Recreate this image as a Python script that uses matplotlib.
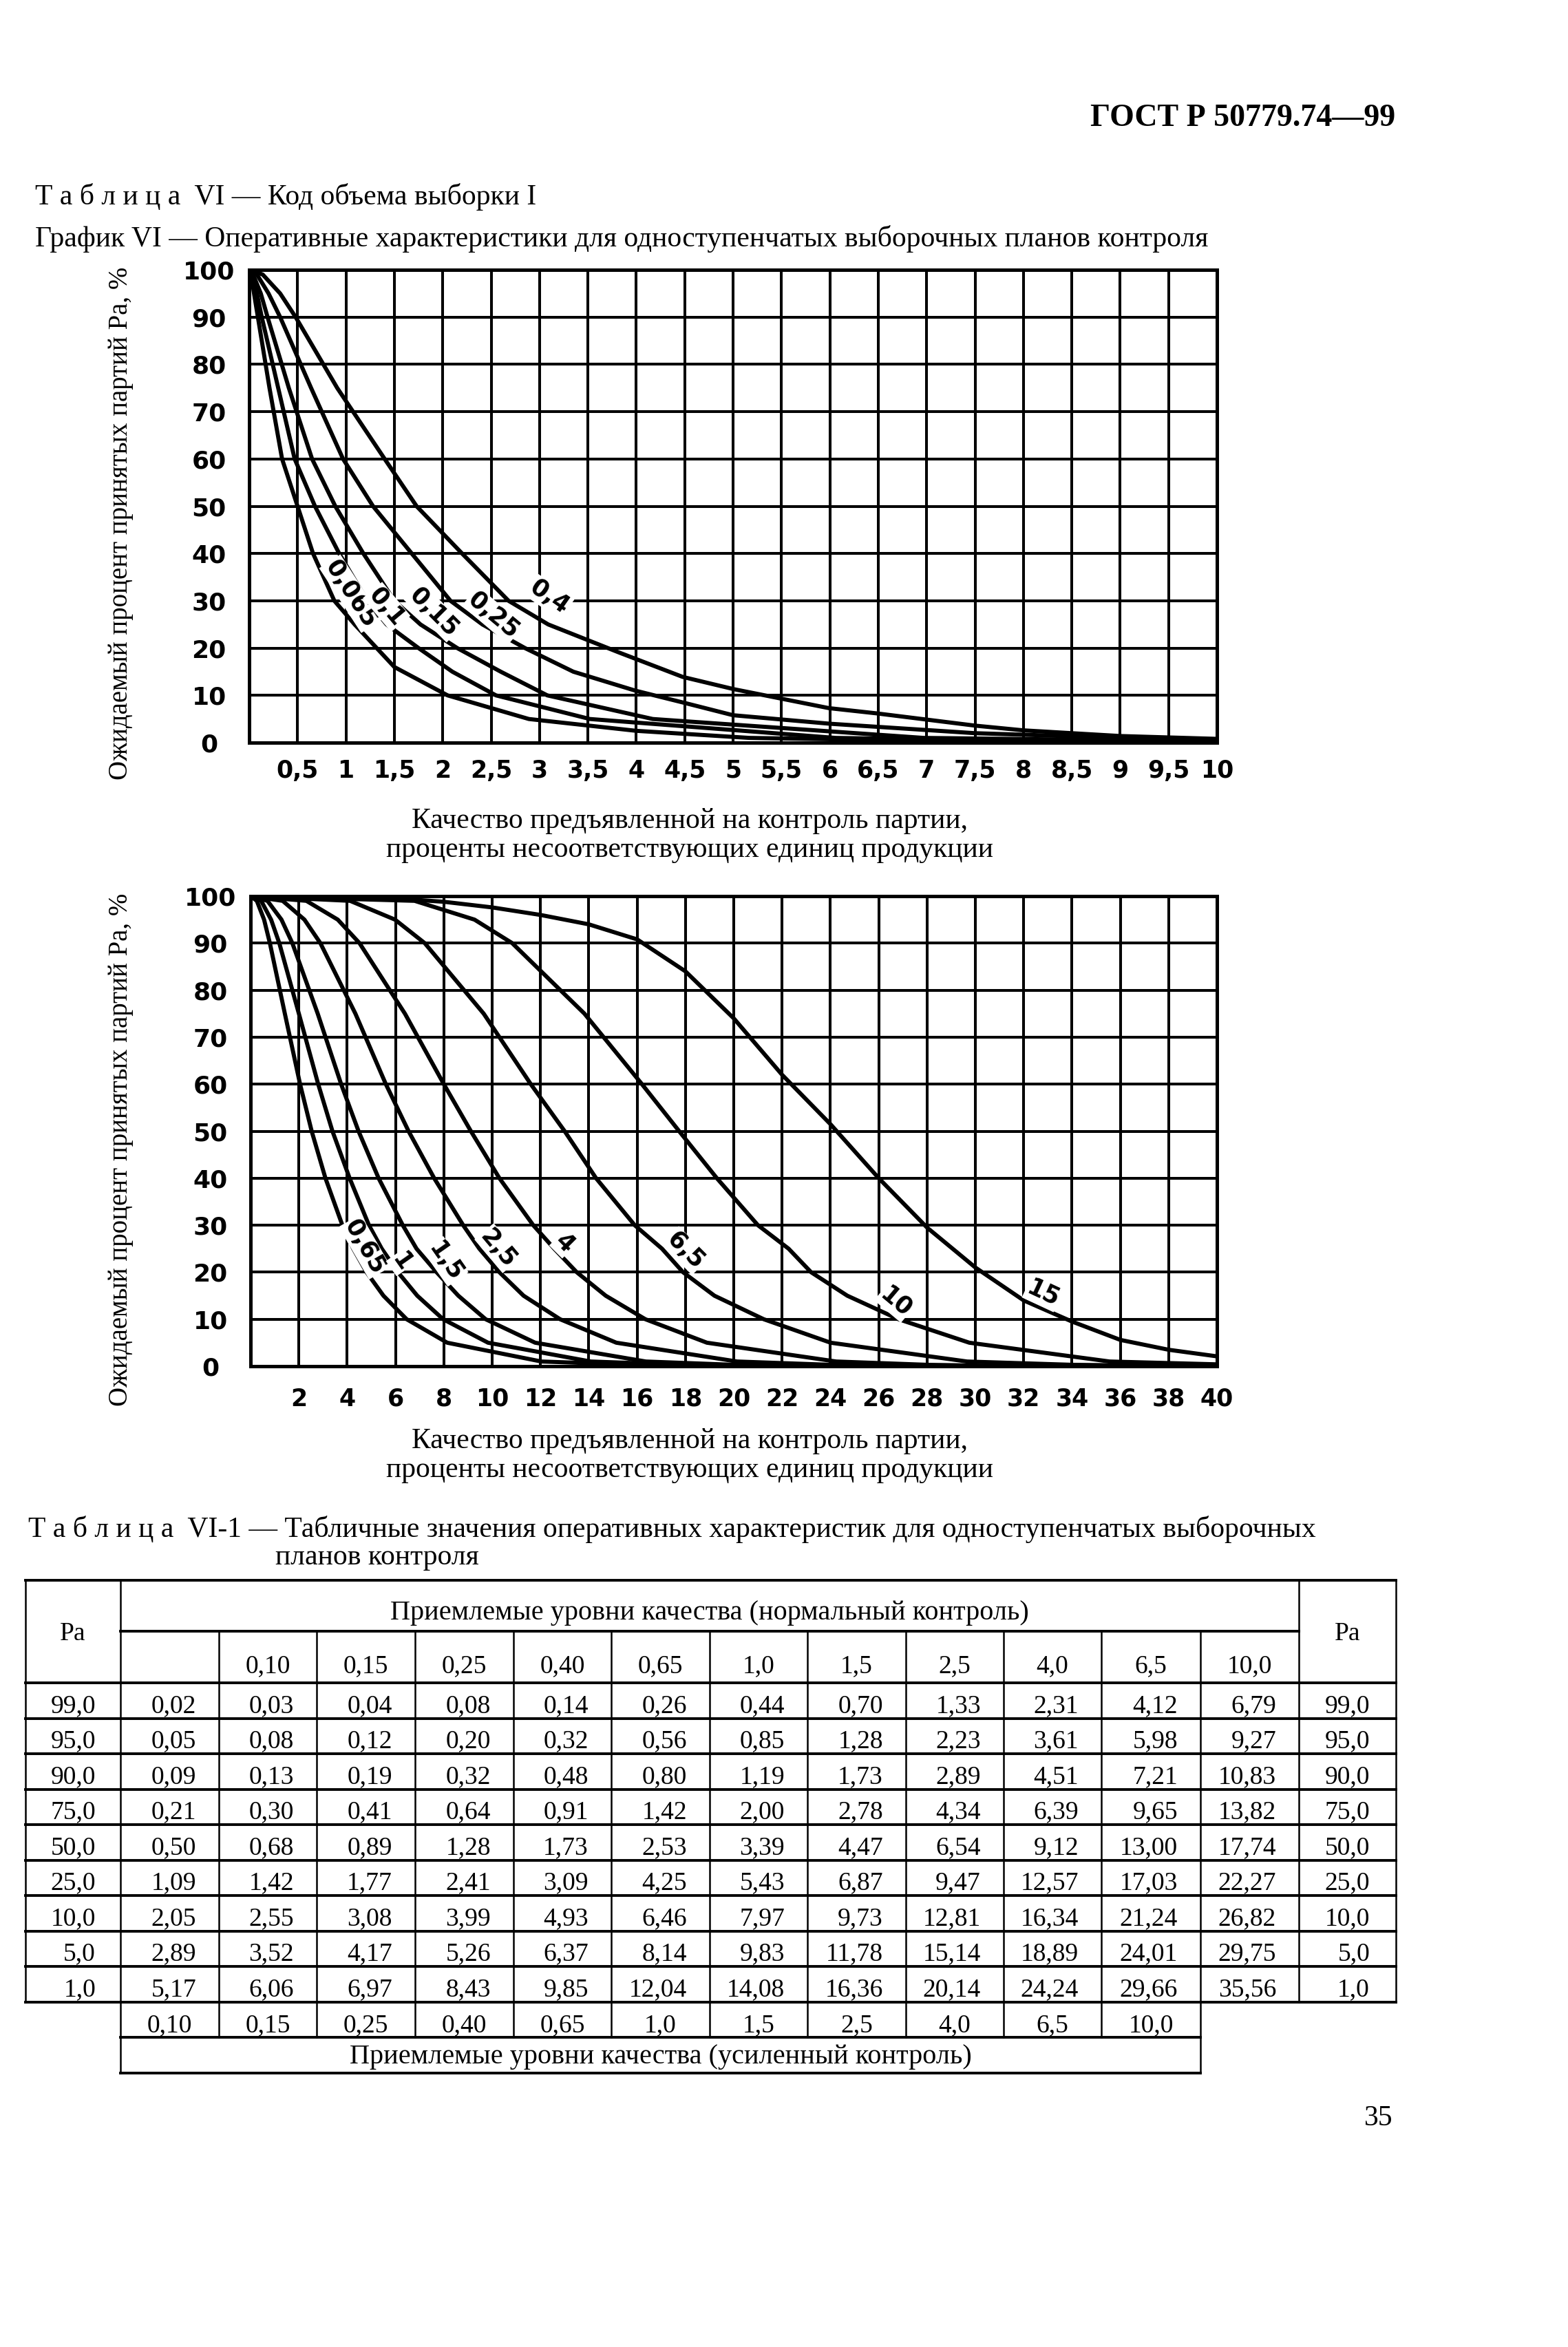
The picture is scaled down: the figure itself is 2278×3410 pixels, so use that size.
import numpy as np
import matplotlib
matplotlib.use("Agg")
import matplotlib.pyplot as plt
from matplotlib import font_manager

W, H = 2278, 3410

installed = {f.name for f in font_manager.fontManager.ttflist}
SERIF = "Liberation Serif"
TECH = "Liberation Sans Narrow" if "Liberation Sans Narrow" in installed else "DejaVu Sans"
plt.rcParams["font.family"] = [SERIF, "DejaVu Serif"]

# ---------------------------------------------------------
# Upper chart: x 0..10 %, curves for AQL 0,065 ... 0,4
# ---------------------------------------------------------
top_x_0065 = [0, 0.02, 0.05, 0.09, 0.21, 0.34, 0.50, 0.66, 0.88, 1.09, 1.50, 2.05, 2.89, 4.0, 5.17, 7.0, 10.0]
top_y_0065 = [100, 99, 95, 90, 75, 60, 50, 40, 30, 25, 16, 10, 5, 2.5, 1, 0.4, 0.2]
top_x_01 = [0, 0.03, 0.08, 0.13, 0.30, 0.47, 0.68, 0.93, 1.22, 1.42, 1.75, 2.10, 2.55, 3.52, 6.06, 8.0, 10.0]
top_y_01 = [100, 99, 95, 90, 75, 60, 50, 40, 30, 25, 20, 15, 10, 5, 1, 0.4, 0.2]
top_x_015 = [0, 0.04, 0.12, 0.19, 0.41, 0.65, 0.89, 1.18, 1.50, 1.77, 2.15, 2.60, 3.08, 4.17, 6.97, 10.0]
top_y_015 = [100, 99, 95, 90, 75, 60, 50, 40, 30, 25, 20, 15, 10, 5, 1, 0.3]
top_x_025 = [0, 0.08, 0.20, 0.32, 0.64, 0.97, 1.28, 1.68, 2.08, 2.41, 2.85, 3.35, 3.99, 4.5, 5.0, 6.0, 7.5, 8.43, 10.0]
top_y_025 = [100, 99, 95, 90, 75, 60, 50, 40, 30, 25, 20, 15, 11, 8.4, 5.8, 4.0, 2.0, 1.4, 0.6]
top_x_04 = [0, 0.14, 0.32, 0.48, 0.91, 1.40, 1.73, 2.20, 2.68, 3.09, 3.83, 4.48, 5.01, 5.99, 6.48, 7.5, 8.0, 9.0, 10.0]
top_y_04 = [100, 99, 95, 90, 75, 60, 50, 40, 30, 25, 19, 13.9, 11.3, 7.3, 6.2, 3.6, 2.6, 1.4, 0.8]

top_labels = ["0,065", "0,1", "0,15", "0,25", "0,4"]
top_label_x = [1.05, 1.42, 1.91, 2.52, 3.10]
top_label_y = [31.5, 28.7, 27.6, 26.9, 30.8]
top_label_rot = [-57, -50, -45, -40, -35]

# ---------------------------------------------------------
# Lower chart: x 0..40 %, curves for AQL 0,65 ... 15
# ---------------------------------------------------------
bot_x_065 = [0, 0.26, 0.56, 0.80, 1.42, 2.05, 2.53, 3.10, 3.80, 4.25, 4.80, 5.50, 6.46, 8.14, 12.04, 16.0, 20.0]
bot_y_065 = [100, 99, 95, 90, 75, 60, 50, 40, 30, 25, 20, 15, 10, 5, 1, 0.3, 0]
bot_x_1 = [0, 0.44, 0.85, 1.19, 2.00, 2.80, 3.39, 4.10, 4.90, 5.43, 6.10, 6.90, 7.97, 9.83, 14.08, 18.0, 22.0]
bot_y_1 = [100, 99, 95, 90, 75, 60, 50, 40, 30, 25, 20, 15, 10, 5, 1, 0.3, 0]
bot_x_15 = [0, 0.70, 1.28, 1.73, 2.78, 3.75, 4.47, 5.30, 6.30, 6.87, 7.70, 8.60, 9.73, 11.78, 16.36, 20.0, 24.0]
bot_y_15 = [100, 99, 95, 90, 75, 60, 50, 40, 30, 25, 20, 15, 10, 5, 1, 0.3, 0]
bot_x_25 = [0, 1.33, 2.23, 2.89, 4.34, 5.60, 6.54, 7.60, 8.80, 9.47, 10.3, 11.3, 12.81, 15.14, 20.14, 24.0, 28.0]
bot_y_25 = [100, 99, 95, 90, 75, 60, 50, 40, 30, 25, 20, 15, 10, 5, 1, 0.3, 0]
bot_x_4 = [0, 2.31, 3.61, 4.51, 6.39, 8.00, 9.12, 10.3, 11.7, 12.57, 13.5, 14.7, 16.34, 18.89, 24.24, 28.0, 32.0]
bot_y_4 = [100, 99, 95, 90, 75, 60, 50, 40, 30, 25, 20, 15, 10, 5, 1, 0.3, 0]
bot_x_65 = [0, 4.12, 5.98, 7.21, 9.65, 11.6, 13.00, 14.3, 15.9, 17.03, 17.9, 19.2, 21.24, 24.01, 29.66, 34.0, 40.0]
bot_y_65 = [100, 99, 95, 90, 75, 60, 50, 40, 30, 25, 20, 15, 10, 5, 1, 0.3, 0]
bot_x_10 = [0, 6.79, 9.27, 10.83, 13.82, 16.2, 17.74, 19.3, 21.0, 22.27, 23.2, 24.7, 26.82, 29.75, 35.56, 40.0]
bot_y_10 = [100, 99, 95, 90, 75, 60, 50, 40, 30, 25, 20, 15, 10, 5, 1, 0.4]
bot_x_15p = [0, 4, 6, 8, 10, 12, 14, 16, 18, 20, 22, 24, 26, 28, 30, 32, 34, 36, 38, 40]
bot_y_15p = [100, 99.8, 99.5, 98.8, 97.6, 96.0, 94.0, 90.8, 84, 74, 62, 51.5, 40, 29.5, 21, 14, 9.5, 5.6, 3.5, 2.1]

bot_labels = ["0,65", "1", "1,5", "2,5", "4", "6,5", "10", "15"]
bot_label_x = [4.73, 6.25, 8.07, 10.25, 13.0, 18.0, 26.7, 32.8]
bot_label_y = [25.4, 22.3, 22.3, 25.1, 26.2, 24.6, 13.7, 15.5]
bot_label_rot = [-60, -55, -55, -50, -45, -45, -40, -25]

# ---------------------------------------------------------
# Table VI-1
# ---------------------------------------------------------
tbl_pa = [99.0, 95.0, 90.0, 75.0, 50.0, 25.0, 10.0, 5.0, 1.0]
aql_normal = ["", "0,10", "0,15", "0,25", "0,40", "0,65", "1,0", "1,5", "2,5", "4,0", "6,5", "10,0"]
aql_tight = ["0,10", "0,15", "0,25", "0,40", "0,65", "1,0", "1,5", "2,5", "4,0", "6,5", "10,0"]
row_99 = [0.02, 0.03, 0.04, 0.08, 0.14, 0.26, 0.44, 0.70, 1.33, 2.31, 4.12, 6.79]
row_95 = [0.05, 0.08, 0.12, 0.20, 0.32, 0.56, 0.85, 1.28, 2.23, 3.61, 5.98, 9.27]
row_90 = [0.09, 0.13, 0.19, 0.32, 0.48, 0.80, 1.19, 1.73, 2.89, 4.51, 7.21, 10.83]
row_75 = [0.21, 0.30, 0.41, 0.64, 0.91, 1.42, 2.00, 2.78, 4.34, 6.39, 9.65, 13.82]
row_50 = [0.50, 0.68, 0.89, 1.28, 1.73, 2.53, 3.39, 4.47, 6.54, 9.12, 13.00, 17.74]
row_25 = [1.09, 1.42, 1.77, 2.41, 3.09, 4.25, 5.43, 6.87, 9.47, 12.57, 17.03, 22.27]
row_10 = [2.05, 2.55, 3.08, 3.99, 4.93, 6.46, 7.97, 9.73, 12.81, 16.34, 21.24, 26.82]
row_5 = [2.89, 3.52, 4.17, 5.26, 6.37, 8.14, 9.83, 11.78, 15.14, 18.89, 24.01, 29.75]
row_1 = [5.17, 6.06, 6.97, 8.43, 9.85, 12.04, 14.08, 16.36, 20.14, 24.24, 29.66, 35.56]
tbl_rows = [row_99, row_95, row_90, row_75, row_50, row_25, row_10, row_5, row_1]


def comma(v, nd):
    return f"{v:.{nd}f}".replace(".", ",")


fig = plt.figure(figsize=(W / 100, H / 100), dpi=100)

# page layer in pixel coordinates (y downwards)
page = fig.add_axes([0, 0, 1, 1])
page.set_xlim(0, W)
page.set_ylim(H, 0)
page.axis("off")

SZ = 30  # main serif text size

page.text(2027, 183, "ГОСТ Р 50779.74—99", ha="right", va="baseline",
          fontsize=33, fontweight="bold")
page.text(51, 297, "Т а б л и ц а  VI — Код объема выборки I", ha="left", va="baseline", fontsize=SZ)
page.text(51, 358, "График VI — Оперативные характеристики для одноступенчатых выборочных планов контроля",
          ha="left", va="baseline", fontsize=SZ)


def chart_axes(left, top, right, bottom):
    return fig.add_axes([left / W, 1 - bottom / H, (right - left) / W, (bottom - top) / H])


def style_chart(ax, xmax, xstep, xlabels, xpad):
    ax.set_xlim(0, xmax)
    ax.set_ylim(0, 100)
    ax.set_xticks(np.arange(xstep, xmax + xstep / 2, xstep))
    ax.set_xticklabels(xlabels, family=[TECH, "DejaVu Sans"], fontsize=25, fontweight="bold")
    ax.set_yticks(np.arange(0, 101, 10))
    ax.set_yticklabels([str(v) for v in range(0, 101, 10)], family=[TECH, "DejaVu Sans"],
                       fontsize=26, fontweight="bold", ha="center")
    ax.tick_params(axis="x", length=0, pad=xpad)
    ax.tick_params(axis="y", length=0, pad=42)
    ax.grid(True, color="black", lw=2.9)
    ax.set_axisbelow(True)
    for sp in ax.spines.values():
        sp.set_linewidth(3.6)


ax1 = chart_axes(362, 392, 1768, 1079)
xl1 = [comma(v, 1).replace(",0", "") for v in np.arange(0.5, 10.01, 0.5)]
style_chart(ax1, 10, 0.5, xl1, 17)
for xs, ys in [(top_x_0065, top_y_0065), (top_x_01, top_y_01), (top_x_015, top_y_015),
               (top_x_025, top_y_025), (top_x_04, top_y_04)]:
    ax1.plot(xs, ys, color="black", lw=4.3, solid_joinstyle="round", zorder=3)
for s, x, y, r in zip(top_labels, top_label_x, top_label_y, top_label_rot):
    ax1.text(x, y, s, rotation=r, ha="center", va="center", rotation_mode="anchor",
             family="DejaVu Sans", fontsize=25, fontweight="bold", zorder=6,
             bbox=dict(fc="white", ec="none", pad=1))

ax2 = chart_axes(364, 1302, 1768, 1985)
xl2 = [str(v) for v in range(2, 41, 2)]
style_chart(ax2, 40, 2, xl2, 22)
for xs, ys in [(bot_x_065, bot_y_065), (bot_x_1, bot_y_1), (bot_x_15, bot_y_15), (bot_x_25, bot_y_25),
               (bot_x_4, bot_y_4), (bot_x_65, bot_y_65), (bot_x_10, bot_y_10), (bot_x_15p, bot_y_15p)]:
    ax2.plot(xs, ys, color="black", lw=4.3, solid_joinstyle="round", zorder=3)
for s, x, y, r in zip(bot_labels, bot_label_x, bot_label_y, bot_label_rot):
    ax2.text(x, y, s, rotation=r, ha="center", va="center", rotation_mode="anchor",
             family="DejaVu Sans", fontsize=25, fontweight="bold", zorder=6,
             bbox=dict(fc="white", ec="none", pad=1))

ylab = "Ожидаемый процент принятых партий Pa, %"
page.text(176, 760, ylab, rotation=90, ha="center", va="center", fontsize=28)
page.text(176, 1670, ylab, rotation=90, ha="center", va="center", fontsize=28)

xlab1 = "Качество предъявленной на контроль партии,"
xlab2 = "проценты несоответствующих единиц продукции"
page.text(1002, 1203, xlab1, ha="center", va="baseline", fontsize=SZ)
page.text(1002, 1245, xlab2, ha="center", va="baseline", fontsize=SZ)
page.text(1002, 2104, xlab1, ha="center", va="baseline", fontsize=SZ)
page.text(1002, 2146, xlab2, ha="center", va="baseline", fontsize=SZ)

# ---- table
page.text(41, 2233, "Т а б л и ц а  VI-1 — Табличные значения оперативных характеристик для одноступенчатых выборочных",
          ha="left", va="baseline", fontsize=SZ)
page.text(400, 2273, "планов контроля", ha="left", va="baseline", fontsize=SZ)

col_edges = [37, 175, 318, 460, 603, 746, 888, 1031, 1173, 1316, 1458, 1600, 1744, 1887, 2028]
head_top, head_mid, head_bot = 2296, 2370, 2445
row_h = (2909 - head_bot) / len(tbl_pa)
data_edges = [head_bot + i * row_h for i in range(len(tbl_pa) + 1)]
tight_bot, last_bot = 2960, 3012

hl = dict(color="black", lw=2.8, solid_capstyle="projecting")
vl = dict(color="black", lw=1.8, solid_capstyle="projecting")
page.plot([col_edges[0], col_edges[-1]], [head_top, head_top], **hl)
page.plot([col_edges[1], col_edges[-2]], [head_mid, head_mid], **hl)
for y in data_edges:
    page.plot([col_edges[0], col_edges[-1]], [y, y], **hl)
page.plot([col_edges[1], col_edges[12]], [tight_bot, tight_bot], **hl)
page.plot([col_edges[1], col_edges[12]], [last_bot, last_bot], **hl)

for x in [col_edges[0], col_edges[-2], col_edges[-1]]:
    page.plot([x, x], [head_top, data_edges[-1]], **vl)
page.plot([col_edges[1], col_edges[1]], [head_top, last_bot], **vl)
page.plot([col_edges[12], col_edges[12]], [head_mid, last_bot], **vl)
for x in col_edges[2:12]:
    page.plot([x, x], [head_mid, tight_bot], **vl)

TS = 27
page.text(1031, 2353, "Приемлемые уровни качества (нормальный контроль)", ha="center", va="baseline", fontsize=29)
page.text((col_edges[0] + col_edges[1]) / 2, 2383, "Pa", ha="center", va="baseline", fontsize=TS)
page.text((col_edges[-2] + col_edges[-1]) / 2, 2383, "Pa", ha="center", va="baseline", fontsize=TS)
for i, s in enumerate(aql_normal):
    cx = (col_edges[i + 1] + col_edges[i + 2]) / 2
    page.text(cx, 2430, s, ha="center", va="baseline", fontsize=TS)

for r, (pa, vals) in enumerate(zip(tbl_pa, tbl_rows)):
    base = data_edges[r] + 0.83 * row_h
    page.text(col_edges[1] - 36, base, comma(pa, 1), ha="right", va="baseline", fontsize=TS)
    page.text(col_edges[-1] - 38, base, comma(pa, 1), ha="right", va="baseline", fontsize=TS)
    for j, v in enumerate(vals):
        page.text(col_edges[j + 2] - 33, base, comma(v, 2), ha="right", va="baseline", fontsize=TS)

for i, s in enumerate(aql_tight):
    cx = (col_edges[i + 1] + col_edges[i + 2]) / 2
    page.text(cx, 2952, s, ha="center", va="baseline", fontsize=TS)
page.text((col_edges[1] + col_edges[12]) / 2, 2998, "Приемлемые уровни качества (усиленный контроль)",
          ha="center", va="baseline", fontsize=29)

page.text(2024, 3088, "35", ha="right", va="baseline", fontsize=30)

fig.savefig("out.png", dpi=100)
